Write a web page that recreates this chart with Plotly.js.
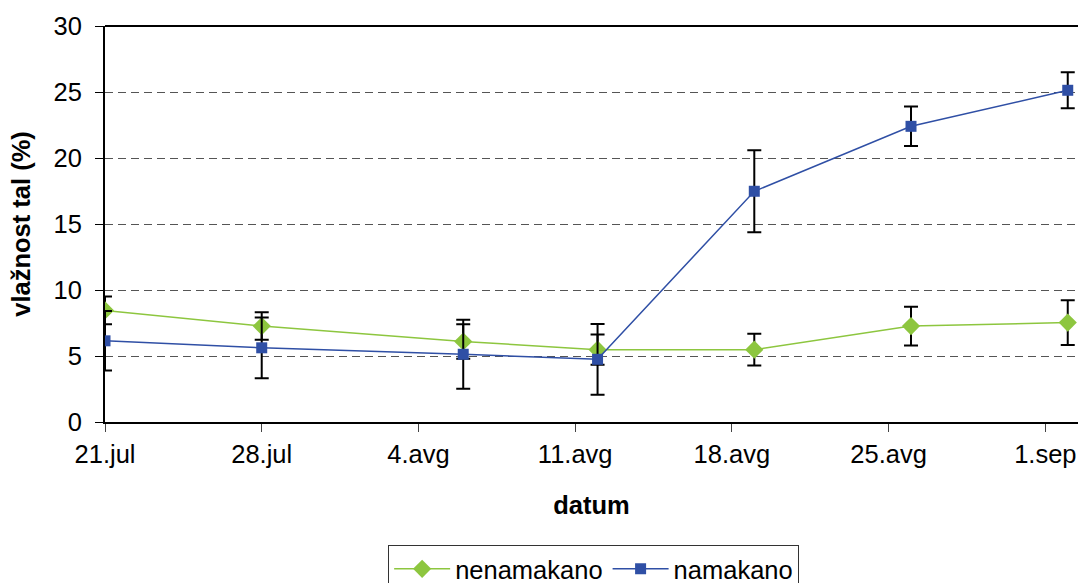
<!DOCTYPE html>
<html>
<head>
<meta charset="utf-8">
<script src="https://cdn.plot.ly/plotly-3.0.1.min.js"></script>
<style>html,body{margin:0;padding:0;background:#fff;}#chart{width:1078px;height:583px;}</style>
</head>
<body>
<div id="chart"></div>
<script>
var dates = ['2008-07-21','2008-07-28','2008-08-06','2008-08-12','2008-08-19','2008-08-26','2008-09-02'];
var nenamakano = [8.45, 7.27, 6.1, 5.48, 5.48, 7.27, 7.53];
var nenamakanoErr = [1.05, 1.04, 1.3, 1.15, 1.2, 1.47, 1.7];
var namakano = [6.15, 5.62, 5.13, 4.75, 17.48, 22.4, 25.13];
var namakanoErr = [2.25, 2.3, 2.62, 2.68, 3.1, 1.5, 1.37];
var tickDates = ['2008-07-21','2008-07-28','2008-08-04','2008-08-11','2008-08-18','2008-08-25','2008-09-01'];
var tickLabels = ['21.jul','28.jul','4.avg','11.avg','18.avg','25.avg','1.sep'];
var yTicks = [0,5,10,15,20,25,30];

var FONT = 'Liberation Sans, Arial, sans-serif';
var FS = 25.5;
var errStyle = {type:'data', visible:true, color:'#000', thickness:2, width:7};

var traces = [
  {x: dates, y: nenamakano, name: 'nenamakano', type:'scatter', mode:'lines+markers',
   line:{color:'#8DC63F', width:1.5},
   marker:{symbol:'diamond', size:14, color:'#8DC63F'},
   error_y: Object.assign({array: nenamakanoErr}, errStyle)},
  {x: dates, y: namakano, name: 'namakano', type:'scatter', mode:'lines+markers',
   line:{color:'#2F4FA5', width:1.5},
   marker:{symbol:'square', size:11, color:'#2F4FA5'},
   error_y: Object.assign({array: namakanoErr}, errStyle)}
];

var layout = {
  width:1078, height:583,
  margin:{l:105, r:0, t:26, b:161, autoexpand:false},
  paper_bgcolor:'#fff', plot_bgcolor:'#fff',
  font:{family:FONT, size:FS, color:'#000'},
  showlegend:true,
  xaxis:{
    type:'date',
    range:['2008-07-21','2008-09-02 11:00'],
    tickvals: tickDates, ticktext: tickLabels,
    ticks:'outside', ticklen:8, tickcolor:'#444', tickwidth:1,
    showline:true, linecolor:'#000', linewidth:2,
    showgrid:false, zeroline:false,
    tickfont:{size:FS},
    title:{text:'<b>datum</b>', font:{size:FS}, standoff:30}
  },
  yaxis:{
    range:[0,30],
    tickvals: yTicks,
    ticks:'outside', ticklen:8, tickcolor:'#000', tickwidth:1,
    showline:true, linecolor:'#000', linewidth:2,
    showgrid:true, gridcolor:'#555', griddash:'8px,5px', gridwidth:1,
    zeroline:false,
    tickfont:{size:FS},
    ticklabelstandoff:8,
    title:{text:'<b>vlažnost tal (%)</b>', font:{size:FS}, standoff:16}
  },
  shapes:[
    {type:'line', xref:'paper', yref:'paper', x0:0, x1:1, y0:1, y1:1, line:{color:'#000', width:2}}
  ],
  legend:{
    orientation:'h', x:0.291, xanchor:'left', y:-0.31, yanchor:'top',
    bordercolor:'#333', borderwidth:1, bgcolor:'#fff',
    font:{size:FS}, itemwidth:56, tracegroupgap:0
  }
};

Plotly.newPlot('chart', traces, layout, {displayModeBar:false, staticPlot:true});
</script>
</body>
</html>
